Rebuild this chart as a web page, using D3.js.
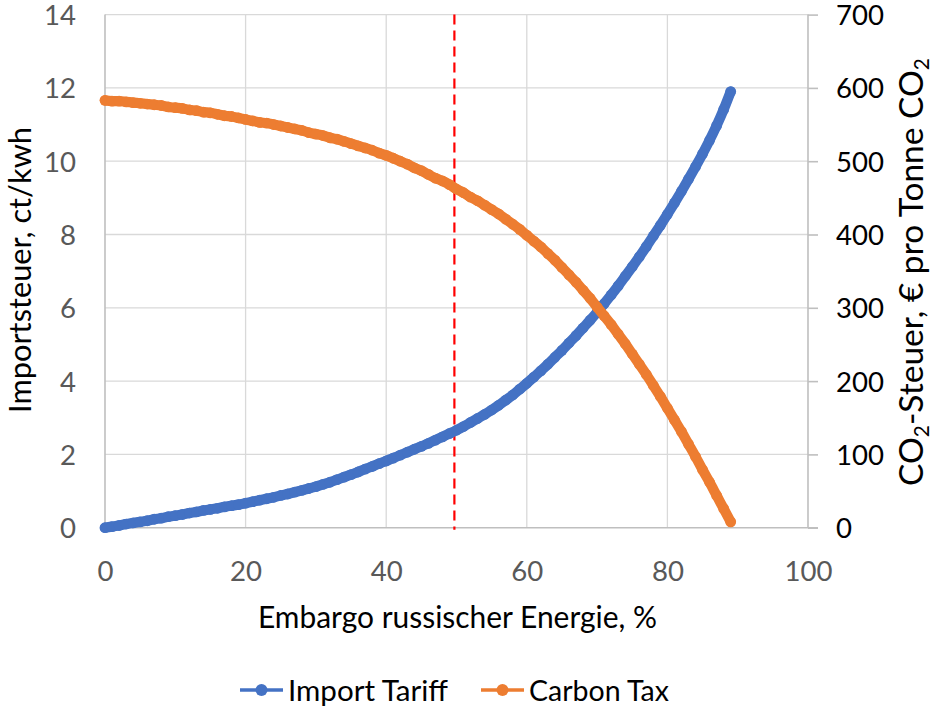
<!DOCTYPE html>
<html>
<head>
<meta charset="utf-8">
<script src="https://cdn.jsdelivr.net/npm/d3@7"></script>
<style>
  html, body { margin: 0; padding: 0; background: #ffffff; }
  svg { display: block; }
</style>
</head>
<body>
<svg id="chart" width="937" height="711"></svg>
<script>
// Embargo share of Russian energy, % (x values of both series)
const embargo = [
  0, 1, 2, 3, 4, 5, 6, 7, 8, 9,
  10, 11, 12, 13, 14, 15, 16, 17, 18, 19,
  20, 21, 22, 23, 24, 25, 26, 27, 28, 29,
  30, 31, 32, 33, 34, 35, 36, 37, 38, 39,
  40, 41, 42, 43, 44, 45, 46, 47, 48, 49,
  50, 51, 52, 53, 54, 55, 56, 57, 58, 59,
  60, 61, 62, 63, 64, 65, 66, 67, 68, 69,
  70, 71, 72, 73, 74, 75, 76, 77, 78, 79,
  80, 81, 82, 83, 84, 85, 86, 87, 88, 89
];

// Import tariff, ct/kWh (left axis)
const importTariff = [
  0.00, 0.03, 0.06, 0.10, 0.13, 0.16, 0.19, 0.23, 0.26, 0.30,
  0.33, 0.36, 0.40, 0.43, 0.47, 0.50, 0.53, 0.57, 0.60, 0.63,
  0.67, 0.71, 0.75, 0.79, 0.83, 0.88, 0.92, 0.97, 1.02, 1.07,
  1.12, 1.18, 1.24, 1.31, 1.38, 1.45, 1.52, 1.60, 1.67, 1.75,
  1.82, 1.90, 1.98, 2.06, 2.14, 2.22, 2.30, 2.39, 2.48, 2.57,
  2.66, 2.76, 2.87, 2.98, 3.09, 3.21, 3.34, 3.48, 3.62, 3.78,
  3.94, 4.11, 4.28, 4.46, 4.65, 4.84, 5.04, 5.24, 5.45, 5.66,
  5.88, 6.11, 6.35, 6.60, 6.86, 7.12, 7.39, 7.67, 7.96, 8.25,
  8.55, 8.86, 9.18, 9.51, 9.85, 10.20, 10.57, 10.97, 11.41, 11.90
];

// Carbon tax, EUR per tonne CO2 (right axis)
const carbonTax = [
  583, 582, 582, 581, 580, 579, 578, 577, 576, 574,
  573, 572, 570, 569, 567, 566, 564, 562, 561, 559,
  557, 555, 553, 552, 550, 548, 546, 544, 542, 539,
  537, 535, 532, 530, 527, 524, 521, 518, 515, 511,
  508, 504, 500, 496, 491, 487, 482, 477, 473, 468,
  462, 457, 451, 446, 440, 434, 428, 421, 414, 407,
  399, 391, 383, 374, 365, 355, 345, 335, 324, 313,
  301, 289, 277, 264, 251, 237, 223, 209, 194, 179,
  163, 147, 131, 114, 97, 79, 62, 44, 26, 8
];

const xTicks = [0, 20, 40, 60, 80, 100];
const leftTicks = [0, 2, 4, 6, 8, 10, 12, 14];
const rightTicks = [0, 100, 200, 300, 400, 500, 600, 700];
const referenceEmbargo = 49.7;

const seriesNames = ["Import Tariff", "Carbon Tax"];
const seriesColors = ["#4472C4", "#ED7D31"];

const FONT = "Lato, 'Open Sans', 'Noto Sans', sans-serif";
const svg = d3.select("#chart");

const box = { left: 105, right: 808, top: 14.6, bottom: 527.7 };

const x = d3.scaleLinear().domain([0, 100]).range([box.left, box.right]);
const yLeft = d3.scaleLinear().domain([0, 14]).range([box.bottom, box.top]);
const yRight = d3.scaleLinear().domain([0, 700]).range([box.bottom, box.top]);

// Scale a text's font size so its rendered width equals the wanted width
function fitWidth(sel, wanted) {
  const node = sel.node();
  const base = parseFloat(sel.attr("font-size"));
  const w = node.getComputedTextLength();
  sel.attr("font-size", (base * wanted / w).toFixed(2));
  return sel;
}

// Common tick font size from the width of "100"
const probe = svg.append("text").attr("font-family", FONT).attr("font-size", 30).text("100");
fitWidth(probe, 48);
const tickSize = parseFloat(probe.attr("font-size"));
probe.remove();

// Gridlines
const grid = svg.append("g").attr("stroke", "#d9d9d9").attr("stroke-width", 1.3);
grid.selectAll("line.h").data(leftTicks.slice(1)).join("line")
  .attr("class", "h")
  .attr("x1", box.left).attr("x2", box.right)
  .attr("y1", d => yLeft(d)).attr("y2", d => yLeft(d));
grid.selectAll("line.v").data(xTicks.slice(1, -1)).join("line")
  .attr("class", "v")
  .attr("x1", d => x(d)).attr("x2", d => x(d))
  .attr("y1", box.top).attr("y2", box.bottom);

// Axis lines
const axisColor = "#bfbfbf";
svg.append("line").attr("x1", box.left).attr("x2", box.left)
  .attr("y1", box.top).attr("y2", box.bottom)
  .attr("stroke", axisColor).attr("stroke-width", 1.6);
svg.append("line").attr("x1", box.right).attr("x2", box.right)
  .attr("y1", box.top).attr("y2", box.bottom)
  .attr("stroke", axisColor).attr("stroke-width", 1.6);

// Left axis labels
const leftAxis = svg.append("g")
  .attr("transform", `translate(${box.left},0)`)
  .call(d3.axisLeft(yLeft).tickValues(leftTicks).tickSize(0).tickPadding(29));
leftAxis.select(".domain").remove();
leftAxis.selectAll("text")
  .attr("font-family", FONT).attr("font-size", tickSize)
  .attr("fill", "#595959").attr("dy", "0.36em");

// Right axis with outside ticks
const rightAxis = svg.append("g")
  .attr("transform", `translate(${box.right},0)`)
  .call(d3.axisRight(yRight).tickValues(rightTicks).tickSize(10).tickPadding(18));
rightAxis.select(".domain").remove();
rightAxis.selectAll("line").attr("stroke", axisColor).attr("stroke-width", 1.6);
rightAxis.selectAll("text")
  .attr("font-family", FONT).attr("font-size", tickSize)
  .attr("fill", "#000000").attr("dy", "0.36em");

// Bottom axis
svg.append("line").attr("x1", box.left).attr("x2", box.right + 10)
  .attr("y1", box.bottom).attr("y2", box.bottom)
  .attr("stroke", axisColor).attr("stroke-width", 1.6);
const bottomAxis = svg.append("g")
  .attr("transform", `translate(0,${box.bottom})`)
  .call(d3.axisBottom(x).tickValues(xTicks).tickSize(0).tickPadding(0));
bottomAxis.select(".domain").remove();
bottomAxis.selectAll("text")
  .attr("font-family", FONT).attr("font-size", tickSize)
  .attr("fill", "#595959")
  .attr("y", 0).attr("dy", null)
  .attr("transform", `translate(0,${571 - box.bottom + tickSize * 0.36})`);

// Reference line for the embargo share
svg.append("line")
  .attr("x1", x(referenceEmbargo)).attr("x2", x(referenceEmbargo))
  .attr("y1", box.top).attr("y2", box.bottom + 2)
  .attr("stroke", "#ff0000").attr("stroke-width", 2.2)
  .attr("stroke-dasharray", "10,6");

// Series: densely packed round markers joined into one band
const tariffPts = embargo.map((e, i) => [x(e), yLeft(importTariff[i])]);
const carbonPts = embargo.map((e, i) => [x(e), yRight(carbonTax[i])]);
const line = d3.line().curve(d3.curveMonotoneX);

[tariffPts, carbonPts].forEach((pts, k) => {
  const g = svg.append("g");
  g.append("path").attr("d", line(pts))
    .attr("fill", "none").attr("stroke", seriesColors[k])
    .attr("stroke-width", 10.2)
    .attr("stroke-linecap", "round").attr("stroke-linejoin", "round");
  g.selectAll("circle").data(pts).join("circle")
    .attr("cx", d => d[0]).attr("cy", d => d[1]).attr("r", 5.4)
    .attr("fill", seriesColors[k]);
});

// Axis titles
const leftTitle = svg.append("text")
  .attr("transform", "translate(31,270) rotate(-90)")
  .attr("text-anchor", "middle")
  .attr("font-family", FONT).attr("font-size", 30).attr("fill", "#000")
  .text("Importsteuer, ct/kwh");
fitWidth(leftTitle, 286);

const rightTitle = svg.append("text")
  .attr("transform", "translate(923,272) rotate(-90)")
  .attr("text-anchor", "middle")
  .attr("font-family", FONT).attr("font-size", 30).attr("fill", "#000");
rightTitle.append("tspan").text("CO");
rightTitle.append("tspan").attr("font-size", "0.62em").attr("dy", "0.3em").text("2");
rightTitle.append("tspan").attr("dy", "-0.186em").text("-Steuer, € pro Tonne CO");
rightTitle.append("tspan").attr("font-size", "0.62em").attr("dy", "0.3em").text("2");
fitWidth(rightTitle, 428);

const xTitle = svg.append("text")
  .attr("x", 457.5).attr("y", 628)
  .attr("text-anchor", "middle")
  .attr("font-family", FONT).attr("font-size", 30).attr("fill", "#000")
  .text("Embargo russischer Energie, %");
fitWidth(xTitle, 399);

// Legend
const legendItems = [
  { name: seriesNames[0], color: seriesColors[0], x0: 240, width: 160 },
  { name: seriesNames[1], color: seriesColors[1], x0: 481, width: 140 }
];
const legend = svg.append("g");
legendItems.forEach(it => {
  legend.append("line")
    .attr("x1", it.x0).attr("x2", it.x0 + 43)
    .attr("y1", 690).attr("y2", 690)
    .attr("stroke", it.color).attr("stroke-width", 3.3);
  legend.append("circle")
    .attr("cx", it.x0 + 21.5).attr("cy", 690).attr("r", 6)
    .attr("fill", it.color);
  const t = legend.append("text")
    .attr("x", it.x0 + 48).attr("y", 701)
    .attr("font-family", FONT).attr("font-size", 30).attr("fill", "#000")
    .text(it.name);
  fitWidth(t, it.width);
});
</script>
</body>
</html>
